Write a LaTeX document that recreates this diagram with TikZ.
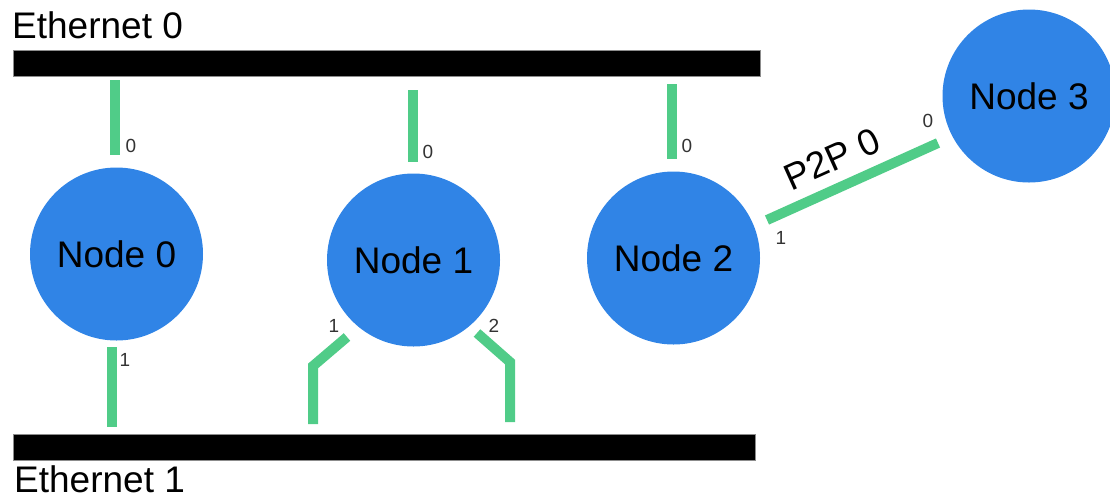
\documentclass[tikz,border=0pt]{standalone}
\usepackage{fontspec}
\setmainfont{Liberation Sans}
\usetikzlibrary{positioning}
\definecolor{hostblue}{RGB}{48,132,230}
\definecolor{linkgreen}{RGB}{80,204,136}

\begin{document}
\begin{tikzpicture}[x=1pt, y=-1pt,
    host/.style={circle, fill=hostblue, minimum size=173pt, inner sep=0pt,
      font=\fontsize{37}{40}\selectfont},
    bus/.style={rectangle, fill=black, draw=black!45, line width=0.8pt,
      minimum height=26pt, inner sep=0pt},
    link/.style={draw=linkgreen, line width=10pt},
    port/.style={inner sep=0pt, text=black!80, font=\fontsize{19}{20}\selectfont},
    title/.style={inner sep=0pt, anchor=base west, font=\fontsize{37}{40}\selectfont}]
  \useasboundingbox (0,0) rectangle (1110,499);

  % the two ethernet segments
  \node[bus, minimum width=747pt] (eth0) at (386.5,63) {};
  \node[bus, minimum width=742pt] (eth1) at (384,447.5) {};
  \node[title] (eth0lbl) at (12,38) {Ethernet 0};
  \node[title] (eth1lbl) at (14,492) {Ethernet 1};

  % hosts
  \node[host] (n0) at (116.5,254) {Node 0};
  \node[host] (n1) at (413.5,260) {Node 1};
  \node[host] (n2) at (673.5,258) {Node 2};
  \node[host] (n3) at (1029,96) {Node 3};

  % link ends
  \coordinate (n0a) at (115,80);  \coordinate (n0b) at (115,155);
  \coordinate (n0c) at (112,347); \coordinate (n0d) at (112,427);
  \coordinate (n1a) at (413,90);  \coordinate (n1b) at (413,162);
  \coordinate (n1c) at (347,337); \coordinate (n1d) at (313,366);
  \coordinate (n1e) at (313,424);
  \coordinate (n1f) at (477,333); \coordinate (n1g) at (510,362);
  \coordinate (n1h) at (510,422);
  \coordinate (n2a) at (672,84);  \coordinate (n2b) at (672,159);
  \coordinate (p2a) at (767,220); \coordinate (p2b) at (938,143);

  \draw[link] (n0a) -- (n0b);
  \draw[link] (n0c) -- (n0d);
  \draw[link] (n1a) -- (n1b);
  \draw[link] (n1c) -- (n1d) -- (n1e);
  \draw[link] (n1f) -- (n1g) -- (n1h);
  \draw[link] (n2a) -- (n2b);
  \draw[link] (p2a) -- node[sloped, above=11pt, pos=0.45, inner sep=0pt,
    font=\fontsize{37}{40}\selectfont] (p2plbl) {P2P 0} (p2b);

  % interface numbers
  \node[port] (if00) at (131,146) {0};
  \node[port] (if01) at (125,360) {1};
  \node[port] (if10) at (428,152) {0};
  \node[port] (if11) at (334,326) {1};
  \node[port] (if12) at (494,326) {2};
  \node[port] (if20) at (687,146) {0};
  \node[port] (if21) at (781,238) {1};
  \node[port] (if30) at (928,121) {0};
\end{tikzpicture}
\end{document}
